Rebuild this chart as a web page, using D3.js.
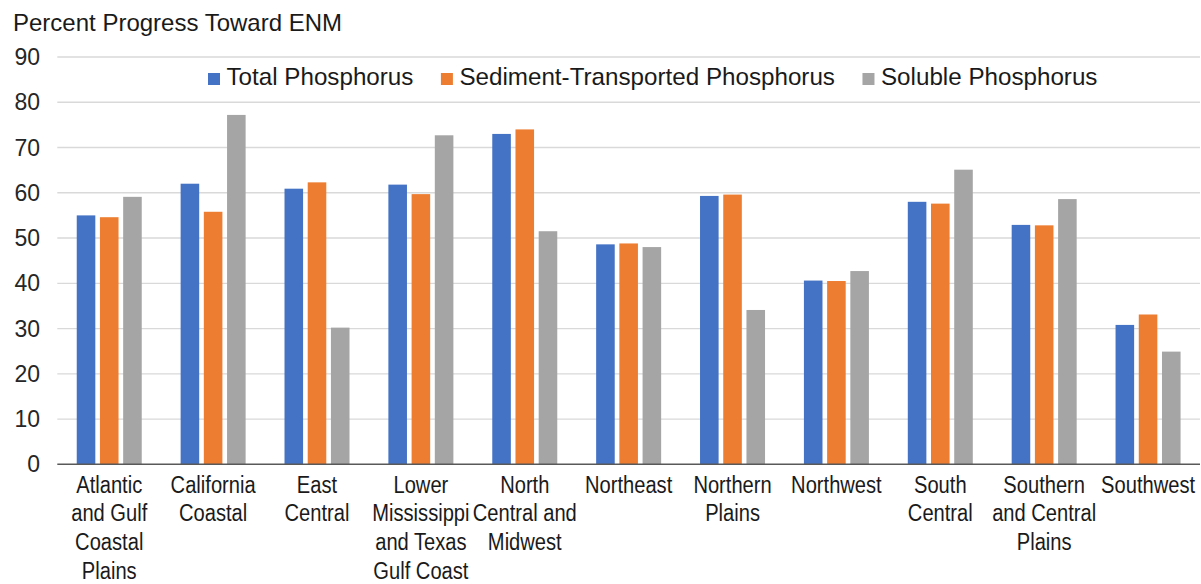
<!DOCTYPE html>
<html>
<head>
<meta charset="utf-8">
<script src="https://cdn.jsdelivr.net/npm/d3@7"></script>
<style>
  html, body { margin: 0; padding: 0; background: #fff; }
  svg { display: block; font-family: "Liberation Sans", Arial, sans-serif; }
</style>
</head>
<body>
<svg id="chart" width="1201" height="584"></svg>
<script>
const categories = [
  "Atlantic and Gulf Coastal Plains",
  "California Coastal",
  "East Central",
  "Lower Mississippi and Texas Gulf Coast",
  "North Central and Midwest",
  "Northeast",
  "Northern Plains",
  "Northwest",
  "South Central",
  "Southern and Central Plains",
  "Southwest"
];
const categoryLines = [
  ["Atlantic", "and Gulf", "Coastal", "Plains"],
  ["California", "Coastal"],
  ["East", "Central"],
  ["Lower", "Mississippi", "and Texas", "Gulf Coast"],
  ["North", "Central and", "Midwest"],
  ["Northeast"],
  ["Northern", "Plains"],
  ["Northwest"],
  ["South", "Central"],
  ["Southern", "and Central", "Plains"],
  ["Southwest"]
];
const seriesNames = ["Total Phosphorus", "Sediment-Transported Phosphorus", "Soluble Phosphorus"];
const totalP    = [55.0, 62.0, 60.9, 61.8, 73.0, 48.6, 59.3, 40.6, 58.0, 52.9, 30.8];
const sedimentP = [54.6, 55.8, 62.3, 59.7, 74.0, 48.8, 59.6, 40.5, 57.6, 52.8, 33.1];
const solubleP  = [59.1, 77.2, 30.2, 72.7, 51.5, 48.0, 34.1, 42.7, 65.1, 58.6, 24.9];
const yTicks = [0, 10, 20, 30, 40, 50, 60, 70, 80, 90];
const colors = ["#4472C4", "#ED7D31", "#A5A5A5"];
const yTitle = "Percent Progress Toward ENM";

const seriesValues = [totalP, sedimentP, solubleP];
const svg = d3.select("#chart");
const plotLeft = 57.3, plotRight = 1200, plotTop = 57, plotBottom = 464.3;

const y = d3.scaleLinear().domain([0, 90]).range([plotBottom, plotTop]);
const x0 = d3.scaleBand().domain(categories).range([plotLeft, plotRight]).padding(0);
const groupW = 65;
const x1 = d3.scaleBand().domain(seriesNames).range([0, groupW]).paddingInner(0.2).paddingOuter(0);

// gridlines
svg.append("g").selectAll("line").data(yTicks.filter(d => d > 0)).join("line")
  .attr("x1", plotLeft).attr("x2", plotRight)
  .attr("y1", d => y(d)).attr("y2", d => y(d))
  .attr("stroke", "#d9d9d9").attr("stroke-width", 1.3);

// y tick labels
svg.append("g").selectAll("text").data(yTicks).join("text")
  .attr("x", 40).attr("y", d => y(d) + 8)
  .attr("text-anchor", "end")
  .attr("font-size", 23).attr("fill", "#262626")
  .text(d => d);

// bars
const groups = svg.append("g").selectAll("g").data(categories).join("g")
  .attr("transform", c => `translate(${x0(c) + x0.bandwidth() / 2 - groupW / 2},0)`);
groups.selectAll("rect").data((c, i) => seriesNames.map((s, k) => ({ s, k, v: seriesValues[k][i] })))
  .join("rect")
  .attr("x", d => x1(d.s))
  .attr("width", x1.bandwidth())
  .attr("y", d => y(d.v))
  .attr("height", d => y(0) - y(d.v))
  .attr("fill", d => colors[d.k]);

// x axis line
svg.append("line").attr("x1", plotLeft).attr("x2", plotRight)
  .attr("y1", y(0)).attr("y2", y(0))
  .attr("stroke", "#595959").attr("stroke-width", 1.5);

// x labels
const xl = svg.append("g").selectAll("g").data(categories).join("g")
  .attr("transform", c => `translate(${x0(c) + x0.bandwidth() / 2},0) scale(0.875,1)`);
xl.each(function (c, i) {
  d3.select(this).selectAll("text").data(categoryLines[i]).join("text")
    .attr("x", 0).attr("y", (d, j) => 492.7 + j * 28.7)
    .attr("text-anchor", "middle")
    .attr("font-size", 23).attr("fill", "#1a1a1a")
    .text(d => d);
});

// title
svg.append("text").attr("x", 13).attr("y", 30.5)
  .attr("font-size", 24).attr("fill", "#1a1a1a").text(yTitle);

// legend
const leg = svg.append("g");
let lx = 208;
seriesNames.forEach((s, k) => {
  leg.append("rect").attr("x", lx).attr("y", 73).attr("width", 12).attr("height", 12).attr("fill", colors[k]);
  const t = leg.append("text").attr("x", lx + 18.5).attr("y", 85)
    .attr("font-size", 24.2).attr("fill", "#1a1a1a").text(s);
  lx = lx + 18.5 + t.node().getComputedTextLength() + 27.5;
});
</script>
</body>
</html>
